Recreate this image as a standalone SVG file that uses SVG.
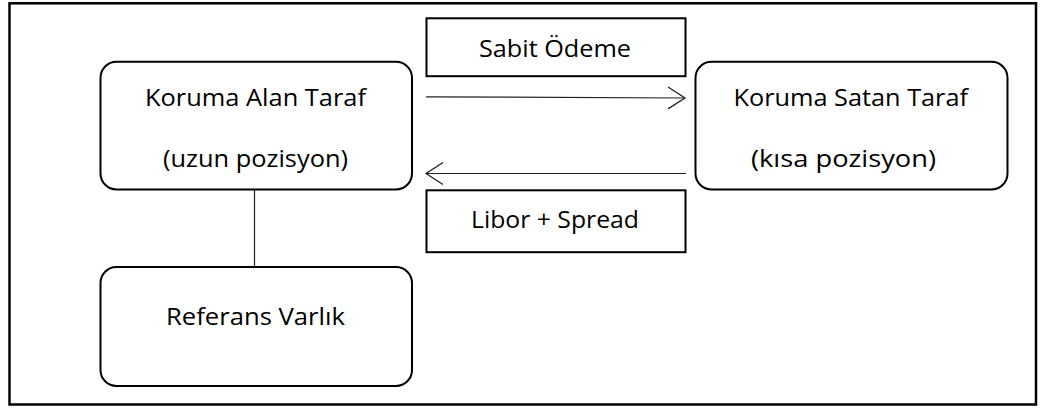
<svg xmlns="http://www.w3.org/2000/svg" width="1044" height="410" viewBox="0 0 1044 410">
  <defs>
    <style>
      .frame { fill: #fff; stroke: #000; stroke-width: 2.5; }
      .node { fill: #fff; stroke: #000; stroke-width: 2; }
      .label { fill: #fff; stroke: #000; stroke-width: 2; }
      .conn { fill: none; stroke: #222; stroke-width: 1.2; }
      .txt { font-family: "Open Sans", "Noto Sans", sans-serif; font-size: 24px; fill: #000; }
    </style>
    <marker id="open" viewBox="0 0 20 24" refX="18" refY="12" markerWidth="20" markerHeight="24" markerUnits="userSpaceOnUse" orient="auto">
      <path d="M1,1 L18,12 L1,23" fill="none" stroke="#222" stroke-width="1.3"/>
    </marker>
  </defs>
  <rect width="1044" height="410" fill="#fff"/>
  <rect class="frame" x="9.5" y="3.3" width="1026.5" height="401.2"/>

  <g id="connectors">
    <line class="conn" x1="426" y1="96.8" x2="685" y2="98" marker-end="url(#open)"/>
    <line class="conn" x1="686" y1="173.5" x2="426" y2="173.5" marker-end="url(#open)"/>
    <line class="conn" x1="254.5" y1="190" x2="254.5" y2="267"/>
  </g>

  <g id="sabit-odeme">
    <rect class="label" x="426.5" y="18.3" width="259" height="57.9"/>
    <text class="txt" x="479" y="57.3" textLength="152" lengthAdjust="spacingAndGlyphs">Sabit Ödeme</text>
  </g>

  <g id="libor-spread">
    <rect class="label" x="426.5" y="190.3" width="259" height="61.9"/>
    <text class="txt" x="471" y="228.3" textLength="168" lengthAdjust="spacingAndGlyphs">Libor + Spread</text>
  </g>

  <g id="koruma-alan">
    <rect class="node" x="100.5" y="61.8" width="311.5" height="127.7" rx="16" ry="16"/>
    <text class="txt" x="145" y="106" textLength="221" lengthAdjust="spacingAndGlyphs">Koruma Alan Taraf</text>
    <text class="txt" x="163" y="167" textLength="185" lengthAdjust="spacingAndGlyphs">(uzun pozisyon)</text>
  </g>

  <g id="koruma-satan">
    <rect class="node" x="695.5" y="61.8" width="312" height="127.7" rx="16" ry="16"/>
    <text class="txt" x="733.5" y="106" textLength="234.5" lengthAdjust="spacingAndGlyphs">Koruma Satan Taraf</text>
    <text class="txt" x="751" y="167" textLength="185" lengthAdjust="spacingAndGlyphs">(kısa pozisyon)</text>
  </g>

  <g id="referans-varlik">
    <rect class="node" x="100.5" y="267" width="311.5" height="119" rx="16" ry="16"/>
    <text class="txt" x="166" y="325" textLength="179" lengthAdjust="spacingAndGlyphs">Referans Varlık</text>
  </g>
</svg>
